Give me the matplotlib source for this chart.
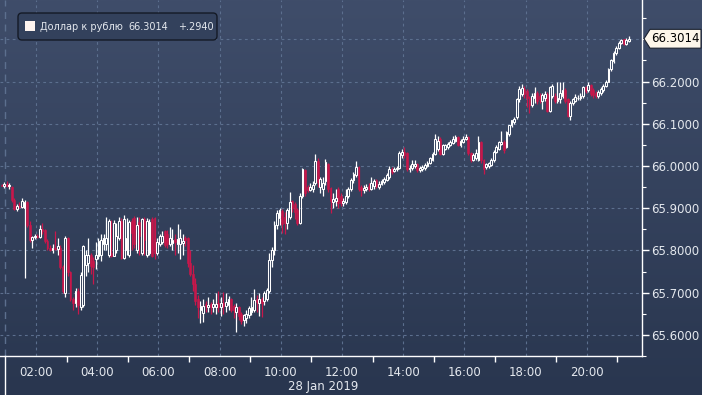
import matplotlib
matplotlib.use("Agg")
import matplotlib.pyplot as plt
import matplotlib.transforms as mtransforms
from matplotlib.patches import FancyBboxPatch, Polygon, Rectangle
from matplotlib.colors import LinearSegmentedColormap
import numpy as np

# ---------------- data (5-minute bars, 28 Jan 2019, USD/RUB) ----------------
FIRST_BAR_HOUR = 0.875          # 00:52:30
BAR_HOURS = 5 / 60

OPEN = [
    65.956, 65.953, 65.958, 65.952, 65.950, 65.920, 65.897, 65.905, 65.903, 65.900, 65.915, 65.860,
    65.825, 65.832, 65.835, 65.832, 65.850, 65.848, 65.822, 65.806, 65.802, 65.806, 65.803, 65.806,
    65.760, 65.700, 65.830, 65.748, 65.685, 65.675, 65.705, 65.665, 65.670, 65.765, 65.770, 65.790,
    65.775, 65.780, 65.787, 65.790, 65.815, 65.815, 65.790, 65.795, 65.788, 65.800, 65.830, 65.870,
    65.783, 65.800, 65.790, 65.870, 65.878, 65.800, 65.868, 65.795, 65.875, 65.790, 65.795, 65.875,
    65.878, 65.795, 65.815, 65.820, 65.845, 65.840, 65.815, 65.818, 65.828, 65.815, 65.815, 65.818,
    65.830, 65.830, 65.770, 65.745, 65.720, 65.685, 65.660, 65.652, 65.672, 65.665, 65.672, 65.665,
    65.665, 65.675, 65.665, 65.676, 65.668, 65.670, 65.685, 65.668, 65.655, 65.665, 65.650, 65.636,
    65.640, 65.648, 65.655, 65.660, 65.685, 65.675, 65.684, 65.680, 65.685, 65.705, 65.778, 65.800,
    65.860, 65.877, 65.893, 65.880, 65.865, 65.880, 65.916, 65.910, 65.895, 65.866, 65.930, 65.990,
    65.950, 65.943, 65.945, 65.960, 66.012, 65.950, 65.945, 65.965, 66.005, 65.947, 65.915, 65.918,
    65.945, 65.930, 65.912, 65.915, 65.930, 65.945, 65.966, 65.978, 65.998, 65.950, 65.943, 65.945,
    65.952, 65.946, 65.952, 65.966, 65.950, 65.958, 65.962, 65.968, 65.975, 65.994, 65.988, 65.992,
    65.995, 66.025, 66.033, 66.030, 65.992, 65.996, 66.000, 66.005, 65.990, 65.992, 65.995, 66.000,
    66.006, 66.014, 66.029, 66.040, 66.065, 66.029, 66.041, 66.045, 66.050, 66.055, 66.060, 66.069,
    66.049, 66.058, 66.065, 66.069, 66.030, 66.014, 66.020, 66.015, 66.057, 66.014, 65.998, 66.000,
    66.003, 66.014, 66.033, 66.040, 66.052, 66.058, 66.045, 66.076, 66.096, 66.104, 66.116, 66.158,
    66.170, 66.182, 66.178, 66.160, 66.145, 66.160, 66.172, 66.165, 66.155, 66.162, 66.170, 66.131,
    66.165, 66.165, 66.155, 66.158, 66.165, 66.180, 66.158, 66.118, 66.150, 66.155, 66.160, 66.160,
    66.165, 66.186, 66.180, 66.192, 66.180, 66.174, 66.166, 66.172, 66.180, 66.190, 66.200, 66.229,
    66.248, 66.268, 66.280, 66.292, 66.300, 66.290, 66.296,
]
HIGH = [
    65.958, 65.962, 65.965, 65.960, 65.953, 65.925, 65.910, 65.915, 65.925, 65.920, 65.918, 65.870,
    65.835, 65.838, 65.840, 65.860, 65.865, 65.850, 65.826, 65.812, 65.815, 65.845, 65.830, 65.812,
    65.765, 65.835, 65.832, 65.752, 65.690, 65.712, 65.710, 65.748, 65.812, 65.800, 65.830, 65.795,
    65.785, 65.820, 65.830, 65.840, 65.840, 65.880, 65.875, 65.872, 65.873, 65.865, 65.880, 65.878,
    65.885, 65.878, 65.872, 65.878, 65.882, 65.880, 65.880, 65.878, 65.880, 65.878, 65.875, 65.880,
    65.880, 65.830, 65.840, 65.845, 65.848, 65.848, 65.855, 65.850, 65.840, 65.862, 65.850, 65.840,
    65.835, 65.832, 65.800, 65.765, 65.735, 65.695, 65.680, 65.685, 65.680, 65.690, 65.678, 65.685,
    65.700, 65.705, 65.690, 65.702, 65.700, 65.692, 65.688, 65.672, 65.675, 65.668, 65.655, 65.650,
    65.660, 65.668, 65.690, 65.708, 65.695, 65.700, 65.690, 65.705, 65.712, 65.795, 65.808, 65.870,
    65.895, 65.900, 65.897, 65.890, 65.900, 65.939, 65.920, 65.915, 65.900, 65.935, 65.996, 65.994,
    65.955, 65.960, 65.965, 66.029, 66.020, 65.975, 65.975, 66.016, 66.008, 65.950, 65.935, 65.945,
    65.950, 65.935, 65.925, 65.945, 65.950, 65.972, 65.985, 66.012, 66.000, 65.955, 65.955, 65.958,
    65.960, 65.975, 65.970, 65.970, 65.965, 65.970, 65.975, 65.983, 66.000, 65.998, 65.998, 66.000,
    66.035, 66.041, 66.045, 66.032, 66.002, 66.015, 66.014, 66.008, 66.000, 66.002, 66.006, 66.012,
    66.022, 66.033, 66.076, 66.070, 66.068, 66.052, 66.053, 66.058, 66.062, 66.070, 66.074, 66.072,
    66.065, 66.070, 66.076, 66.072, 66.033, 66.030, 66.040, 66.072, 66.060, 66.016, 66.008, 66.010,
    66.018, 66.037, 66.049, 66.060, 66.084, 66.062, 66.082, 66.098, 66.110, 66.116, 66.160, 66.190,
    66.194, 66.190, 66.182, 66.165, 66.172, 66.186, 66.178, 66.172, 66.174, 66.178, 66.175, 66.190,
    66.194, 66.172, 66.198, 66.198, 66.198, 66.185, 66.160, 66.155, 66.162, 66.170, 66.168, 66.172,
    66.190, 66.190, 66.199, 66.195, 66.185, 66.178, 66.180, 66.186, 66.194, 66.204, 66.232, 66.254,
    66.272, 66.284, 66.295, 66.302, 66.302, 66.303, 66.307,
]
LOW = [
    65.952, 65.948, 65.950, 65.945, 65.915, 65.895, 65.893, 65.900, 65.900, 65.735, 65.855, 65.820,
    65.805, 65.828, 65.830, 65.830, 65.840, 65.818, 65.802, 65.798, 65.795, 65.800, 65.790, 65.755,
    65.700, 65.690, 65.740, 65.680, 65.660, 65.665, 65.650, 65.658, 65.665, 65.740, 65.750, 65.745,
    65.720, 65.755, 65.780, 65.775, 65.800, 65.800, 65.785, 65.785, 65.786, 65.795, 65.825, 65.780,
    65.780, 65.790, 65.785, 65.800, 65.805, 65.795, 65.790, 65.790, 65.790, 65.785, 65.790, 65.785,
    65.780, 65.790, 65.810, 65.815, 65.808, 65.805, 65.810, 65.800, 65.790, 65.795, 65.780, 65.790,
    65.810, 65.760, 65.740, 65.705, 65.670, 65.640, 65.628, 65.630, 65.655, 65.655, 65.650, 65.655,
    65.650, 65.655, 65.645, 65.650, 65.655, 65.660, 65.655, 65.640, 65.607, 65.635, 65.625, 65.622,
    65.628, 65.640, 65.648, 65.655, 65.655, 65.645, 65.642, 65.670, 65.680, 65.700, 65.760, 65.790,
    65.850, 65.860, 65.842, 65.840, 65.850, 65.875, 65.890, 65.875, 65.860, 65.862, 65.925, 65.930,
    65.938, 65.940, 65.938, 65.955, 65.950, 65.935, 65.930, 65.955, 65.938, 65.888, 65.900, 65.905,
    65.900, 65.905, 65.905, 65.910, 65.925, 65.940, 65.960, 65.975, 65.940, 65.930, 65.935, 65.940,
    65.940, 65.942, 65.945, 65.948, 65.945, 65.955, 65.958, 65.965, 65.970, 65.980, 65.985, 65.988,
    65.992, 66.020, 66.020, 65.988, 65.985, 65.990, 65.995, 65.985, 65.985, 65.988, 65.990, 65.998,
    66.004, 66.012, 66.025, 66.035, 66.025, 66.025, 66.037, 66.040, 66.047, 66.052, 66.057, 66.047,
    66.046, 66.055, 66.062, 66.025, 66.010, 66.012, 66.014, 66.012, 66.008, 65.982, 65.994, 65.996,
    66.000, 66.010, 66.030, 66.037, 66.050, 66.030, 66.042, 66.072, 66.092, 66.100, 66.112, 66.152,
    66.165, 66.160, 66.139, 66.125, 66.140, 66.150, 66.148, 66.150, 66.135, 66.155, 66.128, 66.128,
    66.160, 66.150, 66.150, 66.150, 66.160, 66.150, 66.115, 66.110, 66.145, 66.152, 66.156, 66.157,
    66.160, 66.172, 66.176, 66.166, 66.162, 66.162, 66.162, 66.168, 66.176, 66.186, 66.198, 66.226,
    66.245, 66.264, 66.276, 66.288, 66.286, 66.287, 66.293,
]
CLOSE = [
    65.953, 65.958, 65.952, 65.955, 65.920, 65.897, 65.905, 65.903, 65.918, 65.915, 65.860, 65.825,
    65.832, 65.835, 65.832, 65.850, 65.845, 65.822, 65.806, 65.802, 65.806, 65.803, 65.810, 65.760,
    65.705, 65.830, 65.748, 65.685, 65.675, 65.705, 65.670, 65.743, 65.810, 65.790, 65.790, 65.762,
    65.760, 65.790, 65.822, 65.825, 65.830, 65.830, 65.870, 65.788, 65.865, 65.835, 65.870, 65.783,
    65.875, 65.830, 65.868, 65.842, 65.815, 65.860, 65.835, 65.875, 65.825, 65.870, 65.868, 65.787,
    65.795, 65.820, 65.835, 65.835, 65.812, 65.815, 65.830, 65.825, 65.820, 65.828, 65.830, 65.822,
    65.825, 65.770, 65.745, 65.720, 65.680, 65.665, 65.668, 65.668, 65.668, 65.670, 65.665, 65.672,
    65.672, 65.665, 65.675, 65.668, 65.678, 65.685, 65.660, 65.658, 65.665, 65.645, 65.634, 65.646,
    65.650, 65.663, 65.666, 65.683, 65.678, 65.684, 65.676, 65.700, 65.706, 65.778, 65.800, 65.860,
    65.888, 65.895, 65.862, 65.865, 65.895, 65.915, 65.900, 65.890, 65.866, 65.930, 65.994, 65.935,
    65.943, 65.950, 65.955, 66.012, 65.963, 65.970, 65.960, 66.010, 65.945, 65.917, 65.922, 65.925,
    65.913, 65.912, 65.918, 65.930, 65.945, 65.966, 65.980, 65.998, 65.945, 65.943, 65.947, 65.950,
    65.946, 65.960, 65.965, 65.952, 65.958, 65.965, 65.970, 65.978, 65.994, 65.985, 65.994, 65.996,
    66.030, 66.033, 66.025, 65.992, 65.996, 66.005, 66.005, 65.990, 65.996, 65.998, 66.002, 66.008,
    66.018, 66.029, 66.065, 66.060, 66.029, 66.049, 66.049, 66.052, 66.057, 66.065, 66.069, 66.050,
    66.060, 66.065, 66.069, 66.030, 66.014, 66.025, 66.030, 66.057, 66.014, 65.994, 66.004, 66.006,
    66.014, 66.033, 66.045, 66.057, 66.058, 66.037, 66.080, 66.096, 66.108, 66.112, 66.158, 66.182,
    66.185, 66.170, 66.160, 66.145, 66.166, 66.172, 66.155, 66.158, 66.168, 66.170, 66.131, 66.186,
    66.190, 66.155, 66.160, 66.172, 66.180, 66.155, 66.119, 66.150, 66.158, 66.164, 66.162, 66.165,
    66.186, 66.178, 66.192, 66.170, 66.168, 66.166, 66.175, 66.182, 66.190, 66.200, 66.229, 66.250,
    66.268, 66.280, 66.292, 66.298, 66.290, 66.298, 66.3014,
]

SERIES_NAME = "Доллар к рублю"
LAST_PRICE = 66.3014
NET_CHANGE = "+.2940"

Y_TICKS = [65.6, 65.7, 65.8, 65.9, 66.0, 66.1, 66.2]
X_LABEL_HOURS = [2, 4, 6, 8, 10, 12, 14, 16, 18, 20]
X_LABELS = ["02:00", "04:00", "06:00", "08:00", "10:00", "12:00", "14:00", "16:00", "18:00", "20:00"]
X_MINOR_HOURS = [3, 5, 7, 9, 11, 13, 15, 17, 19, 21]
DAY_START_HOUR = 1.0
DATE_LABEL = "28 Jan 2019"

assert len(OPEN) == len(HIGH) == len(LOW) == len(CLOSE)

# ---------------- style ----------------
W, H = 702, 395
BG_TOP = "#3f4d6a"
BG_BOTTOM = "#29364f"
GRID = "#5c6f8e"
UP = "#ffffff"
DOWN = "#c8174b"
TXT = "#e4e8ee"

fig = plt.figure(figsize=(W / 100, H / 100), dpi=100)

# gradient background
bg = fig.add_axes([0, 0, 1, 1], zorder=-10)
cmap = LinearSegmentedColormap.from_list("bg", [BG_BOTTOM, BG_TOP])
grad = np.linspace(0, 1, 256).reshape(-1, 1)
bg.imshow(grad, aspect="auto", cmap=cmap, origin="lower", extent=[0, 1, 0, 1])
bg.set_axis_off()

ax_left, ax_right = 0.0, 642 / W
ax_bottom, ax_top = 39 / H, 1.0
ax = fig.add_axes([ax_left, ax_bottom, ax_right - ax_left, ax_top - ax_bottom])
ax.patch.set_alpha(0)

o = np.array(OPEN)
h = np.array(HIGH)
l = np.array(LOW)
c = np.array(CLOSE)
t = FIRST_BAR_HOUR + np.arange(len(o)) * BAR_HOURS
up = c >= o
dn = ~up
body_lo = np.minimum(o, c)
body_hi = np.maximum(o, c)
bw = BAR_HOURS * 0.72
minh = 0.0008

# wicks (outside the body)
ax.vlines(t[up], l[up], body_lo[up], colors=UP, lw=0.9, zorder=3)
ax.vlines(t[up], body_hi[up], h[up], colors=UP, lw=0.9, zorder=3)
ax.vlines(t[dn], l[dn], h[dn], colors=DOWN, lw=0.9, zorder=3)
# bodies
ax.bar(t[dn], np.maximum(body_hi[dn] - body_lo[dn], minh), bottom=body_lo[dn], width=bw,
       color=DOWN, edgecolor=DOWN, lw=0.4, zorder=3)
ax.bar(t[up], np.maximum(body_hi[up] - body_lo[up], minh), bottom=body_lo[up], width=bw,
       facecolor="none", edgecolor=UP, lw=0.75, zorder=4)

# axes ranges
px_per_hour = 30.6
x0_hour = 2 - 36 / px_per_hour
x1_hour = 2 + (642 - 36) / px_per_hour
ax.set_xlim(x0_hour, x1_hour)
val_per_px = 0.1 / 42.6
y_at_bottom = 65.6 - (356 - 338) * val_per_px
y_at_top = 66.2 + 82.3 * val_per_px
ax.set_ylim(y_at_bottom, y_at_top)

# grid
for yv in Y_TICKS + [66.3]:
    ax.axhline(yv, color=GRID, lw=0.8, ls=(0, (2.5, 3)), zorder=1)
for xv in X_LABEL_HOURS:
    ax.axvline(xv, color=GRID, lw=0.8, ls=(0, (2.5, 3)), zorder=1)
ax.axvline(DAY_START_HOUR, color=GRID, lw=1.0, ls=(0, (5, 4)), zorder=1)
ax.plot([DAY_START_HOUR, DAY_START_HOUR], [-0.12, 0], color="white", lw=1.0,
        transform=ax.get_xaxis_transform(), clip_on=False)

# spines
for s in ["left", "top"]:
    ax.spines[s].set_visible(False)
for s in ["right", "bottom"]:
    ax.spines[s].set_color("white")
    ax.spines[s].set_linewidth(1.0)

# y ticks
ax.yaxis.tick_right()
ax.set_yticks(Y_TICKS)
ax.set_yticklabels([f"{v:.4f}" for v in Y_TICKS])
ax.set_yticks(np.arange(65.55, 66.36, 0.05), minor=True)
ax.tick_params(axis="y", which="major", colors="white", labelcolor=TXT, length=5, width=1.0,
               pad=1.5, labelsize=8.5)
ax.tick_params(axis="y", which="minor", colors="white", length=3, width=0.8)

# x ticks
ax.set_xticks(X_LABEL_HOURS)
ax.set_xticklabels(X_LABELS)
ax.set_xticks(X_MINOR_HOURS, minor=True)
ax.tick_params(axis="x", which="major", length=0, pad=7.5, labelcolor=TXT, labelsize=8.5)
ax.tick_params(axis="x", which="minor", length=4, width=1.0, colors="white")
ax.text(0.503, -0.085, DATE_LABEL, transform=ax.transAxes, ha="center", va="center",
        color=TXT, fontsize=8.5)

# last price tag
blend = mtransforms.blended_transform_factory(fig.transFigure, ax.transData)
hh = 9.5 * val_per_px
tag = Polygon([(644 / W, LAST_PRICE), (650 / W, LAST_PRICE + hh), (701 / W, LAST_PRICE + hh),
               (701 / W, LAST_PRICE - hh), (650 / W, LAST_PRICE - hh)], closed=True,
              facecolor="#fdf6ea", edgecolor="#1c2230", lw=0.8, transform=blend, clip_on=False,
              zorder=10)
fig.add_artist(tag)
fig.text(675.5 / W, LAST_PRICE, f"{LAST_PRICE:.4f}", transform=blend, ha="center", va="center",
         color="black", fontsize=8.5, zorder=11)

# legend box
box = FancyBboxPatch((18, H - 40), 199, 27, boxstyle="round,pad=0,rounding_size=4",
                     facecolor="#33415c", edgecolor="#141a26", lw=1.0, transform=None, zorder=10)
fig.add_artist(box)
sq = Rectangle((25, H - 31), 10, 10, facecolor="#fdf3ee", edgecolor="none", transform=None,
               zorder=11)
fig.add_artist(sq)
ly = H - 26.5
fig.text(40 / W, ly / H, SERIES_NAME, color=TXT, fontsize=7, va="center", ha="left", zorder=11)
fig.text(128 / W, ly / H, f"{LAST_PRICE:.4f}", color=TXT, fontsize=7, va="center", ha="left",
         zorder=11)
fig.text(178 / W, ly / H, NET_CHANGE, color=TXT, fontsize=7, va="center", ha="left", zorder=11)

fig.savefig("out.png", dpi=100)
